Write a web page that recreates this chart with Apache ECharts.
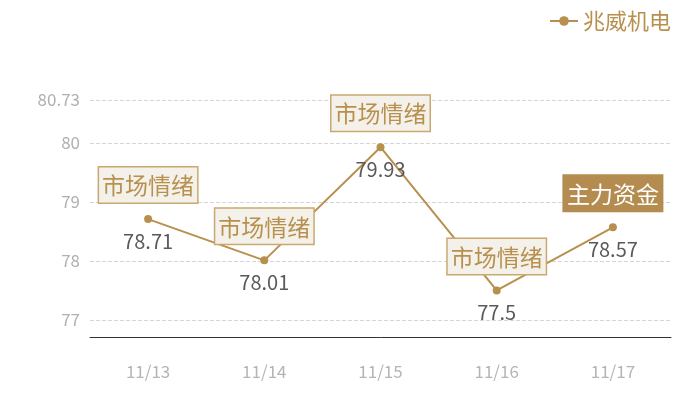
<!DOCTYPE html>
<html><head><meta charset="utf-8">
<script src="https://cdn.jsdelivr.net/npm/echarts@6/dist/echarts.min.js"></script>
<style>html,body{margin:0;padding:0;background:#fff}#c{width:700px;height:400px}</style>
</head><body><div id="c"></div>
<script>
const seriesName = '兆威机电';
const categories = ['11/13', '11/14', '11/15', '11/16', '11/17'];
const values = [78.71, 78.01, 79.93, 77.5, 78.57];
const markerIdx = [0, 1, 2, 3, 4];
const markerText = ['市场情绪', '市场情绪', '市场情绪', '市场情绪', '主力资金'];
const yMin = 76.71, yMax = 80.73;

const gold = '#b8904e';
const font = '"Noto Sans CJK SC", "Noto Sans", sans-serif';

const markData = markerIdx.map((i, k) => {
  const main = markerText[k] === '主力资金';
  return {
    coord: [i, values[i]],
    value: markerText[k],
    label: {
      show: true, position: 'top', distance: 16,
      formatter: markerText[k],
      fontSize: 23, fontFamily: font, lineHeight: 26,
      color: main ? '#ffffff' : gold,
      backgroundColor: main ? '#b48c4f' : '#f4f0ea',
      borderColor: main ? '#b48c4f' : '#c9a970',
      borderWidth: 1.5,
      padding: [5, 3, 4, 3]
    }
  };
});

const chart = echarts.init(document.getElementById('c'));
chart.setOption({
  animation: false,
  textStyle: { fontFamily: font },
  legend: {
    right: 24, top: 5,
    itemWidth: 28, itemHeight: 12, itemGap: 8,
    textStyle: { color: gold, fontSize: 22, fontFamily: font },
    data: [seriesName]
  },
  grid: { left: 90, right: 29, top: 100, bottom: 63 },
  xAxis: {
    type: 'category', data: categories, boundaryGap: true,
    axisLine: { lineStyle: { color: '#333', width: 1 } },
    axisTick: { show: false },
    axisLabel: { color: '#b5b5b5', fontSize: 17, margin: 26 },
    splitLine: { show: false }
  },
  yAxis: {
    type: 'value', min: yMin, max: yMax,
    axisLine: { show: false }, axisTick: { show: false },
    axisLabel: { color: '#b0b0b0', fontSize: 17, margin: 10, showMinLabel: false, showMaxLabel: true },
    splitLine: { lineStyle: { color: '#d6d6d6', type: 'dashed' } }
  },
  series: [{
    name: seriesName, type: 'line', data: values,
    symbol: 'circle', symbolSize: 8,
    lineStyle: { color: gold, width: 2 },
    itemStyle: { color: gold },
    label: { show: true, position: 'bottom', distance: 8, color: '#5a5a5a', fontSize: 20 },
    markPoint: {
      symbol: 'rect', symbolSize: [1, 1],
      itemStyle: { color: 'rgba(0,0,0,0)' },
      data: markData
    }
  }]
});
</script></body></html>
